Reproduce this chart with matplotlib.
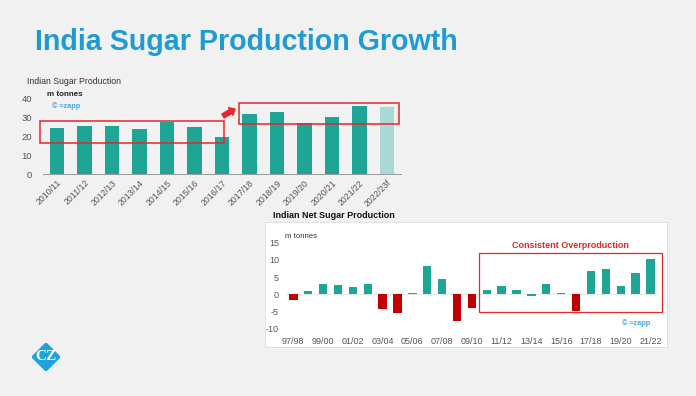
import matplotlib
matplotlib.use("Agg")
import matplotlib.pyplot as plt
from matplotlib.patches import Rectangle, FancyArrow
import matplotlib.patches as mpatches
from matplotlib.transforms import IdentityTransform

plt.rcParams['font.family'] = ['Liberation Sans', 'DejaVu Sans']
plt.rcParams['axes.unicode_minus'] = False

# ---- data ----
top_categories = ["2010/11", "2011/12", "2012/13", "2013/14", "2014/15", "2015/16",
                  "2016/17", "2017/18", "2018/19", "2019/20", "2020/21", "2021/22", "2022/23f"]
top_values = [24.4, 25.8, 25.4, 23.8, 27.9, 25.2, 19.7, 32.0, 32.9, 27.2, 30.4, 36.3, 35.7]
top_forecast = [False] * 12 + [True]

net_categories = ["97/98", "98/99", "99/00", "00/01", "01/02", "02/03", "03/04", "04/05",
                  "05/06", "06/07", "07/08", "08/09", "09/10", "10/11", "11/12", "12/13",
                  "13/14", "14/15", "15/16", "16/17", "17/18", "18/19", "19/20", "20/21", "21/22"]
net_values = [-1.7, 0.9, 2.9, 2.7, 2.1, 3.1, -4.3, -5.5, 0.4, 8.2, 4.6, -7.8, -3.8,
              1.4, 2.6, 1.4, -0.3, 2.9, 0.4, -4.8, 6.7, 7.4, 2.6, 6.2, 10.2]
net_negative_red = [v < -1 for v in net_values]

TEAL = '#1fa595'
TEAL_LIGHT = '#a9d9d4'
DARK_RED = '#c00000'
BOX_RED = '#e2282c'
BG = '#f1f1f1'
GRAY = '#555555'

W, H = 696, 396
fig = plt.figure(figsize=(W / 100, H / 100), dpi=100, facecolor=BG)

def ax_px(x0, y0, x1, y1):
    return fig.add_axes([x0 / W, 1 - y1 / H, (x1 - x0) / W, (y1 - y0) / H])

# Title
fig.text(35 / W, 1 - 42 / H, "India Sugar Production Growth", color='#1e9ad6',
         fontsize=20.6, fontweight='bold', va='center', ha='left')

# ---- top chart ----
ax1 = ax_px(43.25, 99, 400.75, 174)
ax1.set_facecolor('none')
x1 = list(range(len(top_categories)))
colors1 = [TEAL_LIGHT if f else TEAL for f in top_forecast]
ax1.bar(x1, top_values, width=0.52, color=colors1, zorder=2)
ax1.set_xlim(-0.5, len(top_categories) - 0.5)
ax1.set_ylim(0, 40)
ax1.set_yticks([0, 10, 20, 30, 40])
ax1.set_xticks(x1)
ax1.set_xticklabels(top_categories, rotation=45, ha='right', rotation_mode='anchor',
                    fontsize=6.3, color=GRAY)
ax1.tick_params(axis='y', length=0, labelsize=6.8, labelcolor=GRAY, pad=8)
ax1.tick_params(axis='x', length=0, pad=3)
for s in ['top', 'right', 'left']:
    ax1.spines[s].set_visible(False)
ax1.spines['bottom'].set_color('#999999')
ax1.spines['bottom'].set_linewidth(0.7)

fig.text(27 / W, 1 - 81 / H, "Indian Sugar Production", fontsize=6.3, color='#333333',
         va='center', ha='left')
fig.text(47 / W, 1 - 95 / H, "m tonnes", fontsize=5.8, color='#222222', fontweight='bold',
         va='center', ha='left')
fig.text(52 / W, 1 - 106 / H, "© ≈zapp", fontsize=5.3, color='#4aa3df', fontweight='bold',
         va='center', ha='left')

# red boxes (data coords)
ax1.add_patch(Rectangle((-0.62, 16.7), 6.7, 11.6, fill=False, edgecolor=BOX_RED,
                        linewidth=1.1, clip_on=False, zorder=3))
ax1.add_patch(Rectangle((6.62, 26.7), 5.8, 11.2, fill=False, edgecolor=BOX_RED,
                        linewidth=1.1, clip_on=False, zorder=3))
# arrow in figure pixels (origin bottom-left)
fig.add_artist(FancyArrow(223, H - 116, 12, 7, width=4.5, head_width=9, head_length=5,
                          length_includes_head=True, color=BOX_RED,
                          transform=IdentityTransform()))

# ---- bottom chart ----
panel = fig.add_axes([265 / W, 1 - 347 / H, (667 - 265) / W, (347 - 222) / H])
panel.set_xticks([]); panel.set_yticks([])
panel.set_facecolor('white')
for s in panel.spines.values():
    s.set_color('#dddddd'); s.set_linewidth(0.6)
panel.set_zorder(0)

ax2 = ax_px(285.9, 242.7, 657.9, 329)
ax2.set_facecolor('none')
ax2.set_zorder(1)
x2 = list(range(len(net_categories)))
colors2 = [DARK_RED if r else TEAL for r in net_negative_red]
ax2.bar(x2, net_values, width=0.56, color=colors2, zorder=2)
ax2.axhline(0, color='#dddddd', linewidth=0.8, linestyle=(0, (2, 1)), zorder=1)
ax2.set_xlim(-0.5, len(net_categories) - 0.5)
ax2.set_ylim(-10, 15)
ax2.set_yticks([-10, -5, 0, 5, 10, 15])
ax2.set_xticks(x2[::2])
ax2.set_xticklabels(net_categories[::2], fontsize=6.5, color=GRAY)
ax2.tick_params(axis='y', length=0, labelsize=6.5, labelcolor=GRAY, pad=5)
ax2.tick_params(axis='x', length=0, pad=6)
for s in ax2.spines.values():
    s.set_visible(False)

fig.text(273 / W, 1 - 216 / H, "Indian Net Sugar Production", fontsize=6.5, color='#111111',
         fontweight='bold', va='center', ha='left')
fig.text(285 / W, 1 - 237 / H, "m tonnes", fontsize=5.6, color='#333333',
         va='center', ha='left')
fig.text(622 / W, 1 - 323 / H, "© ≈zapp", fontsize=5.3, color='#4aa3df', fontweight='bold',
         va='center', ha='left')

ax2.add_patch(Rectangle((12.48, -5.2), 12.3, 17.1, fill=False, edgecolor=BOX_RED,
                        linewidth=0.9, clip_on=False, zorder=3))
ax2.text(18.6, 14.1, "Consistent Overproduction", color=BOX_RED, fontsize=6.5,
         fontweight='bold', ha='center', va='center')

# ---- logo ----
logo = fig.add_axes([32 / W, 1 - 371 / H, 28 / W, 28 / H])
logo.set_xlim(-1, 1); logo.set_ylim(-1, 1); logo.axis('off')
logo.add_patch(mpatches.Polygon([[0, 1], [1, 0], [0, -1], [-1, 0]], closed=True,
                                color='#1ea3e0'))
logo.text(0, 0, "CZ", color='white', fontsize=11, fontweight='bold',
          family=['Liberation Serif', 'DejaVu Serif'], ha='center', va='center')

fig.savefig("out.png", dpi=100, facecolor=BG)
